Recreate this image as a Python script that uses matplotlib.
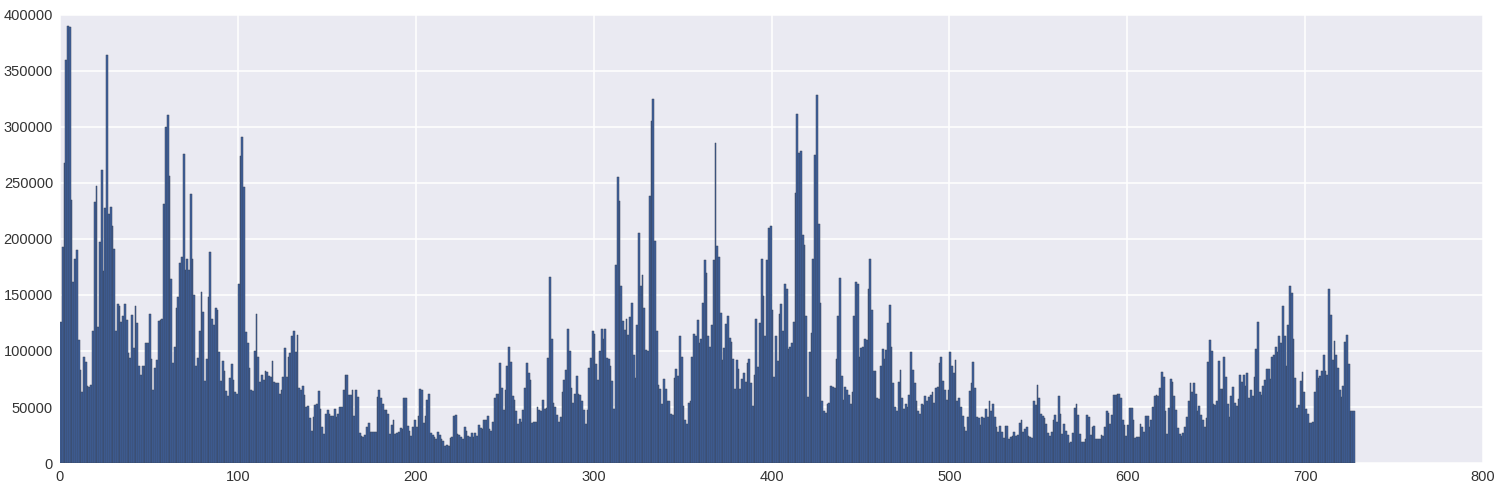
import numpy as np
import matplotlib
matplotlib.use("Agg")
import matplotlib.pyplot as plt

# values in thousands, per day index
seg_000_060 = [126,193,268,360,390,389,235,162,182,190,
               110,83,63,95,90,69,68,70,118,233,
               247,121,197,262,171,228,364,222,229,212,
               191,118,142,140,126,131,142,128,98,94,
               132,103,140,125,87,79,87,87,107,107,
               133,93,65,85,92,127,128,129,231,300,
               311]
seg_061_121 = [256,164,89,104,138,148,179,184,276,
               172,182,172,240,182,150,87,94,118,153,
               135,73,93,148,188,129,123,138,137,99,
               73,91,82,64,60,76,88,74,63,62,
               160,274,291,246,117,107,85,65,64,100,
               133,95,72,79,74,82,81,78,77,91,
               72,71]
seg_122_183 = [71,62,65,77,103,77,95,98,
               113,118,99,114,67,65,69,61,50,51,
               40,29,41,52,53,64,48,32,26,44,
               47,44,42,42,48,41,44,50,50,65,
               79,79,61,61,65,42,65,59,27,24,
               23,25,32,36,28,28,28,28,59,65,
               58,53,47,47]
seg_184_245 = [44,26,34,38,26,27,
               28,31,30,58,58,33,29,24,32,38,
               32,42,66,65,36,42,56,62,27,25,
               23,21,28,25,21,20,15,16,15,22,
               23,42,43,26,25,23,21,32,29,24,
               23,27,23,27,24,34,31,30,38,38,
               42,30,29,37,58,62]
seg_246_307 = [62,89,67,47,
               65,87,104,90,60,56,46,35,39,37,
               47,67,89,80,74,36,37,37,50,47,
               46,56,48,49,94,166,111,54,50,43,
               37,41,63,74,83,120,100,67,54,62,
               78,62,61,55,47,35,47,85,94,118,
               115,88,74,100,120,111,120,94]
seg_308_369 = [93,87,
               73,48,177,255,234,158,127,119,129,114,
               130,143,96,76,123,205,158,168,138,101,
               100,238,305,325,198,118,70,66,53,75,
               66,55,55,44,43,76,84,78,113,95,
               51,38,35,54,55,95,115,113,128,107,
               111,143,181,170,113,104,123,181,286,194]
seg_370_430 = [184,134,92,103,124,131,112,108,93,66,
               92,84,66,75,80,72,89,93,71,51,
               79,129,86,125,182,149,113,181,210,212,
               137,77,113,91,133,142,118,160,155,102,
               104,107,126,241,312,277,279,204,195,131,
               59,99,116,182,275,329,213,143,55,46,
               45]
seg_431_492 = [53,54,69,68,67,93,131,165,78,
               56,68,65,61,53,63,131,162,160,95,
               103,104,111,110,155,182,137,82,82,58,
               57,87,102,93,101,125,141,104,71,50,
               46,72,83,58,48,53,50,61,99,83,
               71,55,46,44,53,52,60,55,59,61,
               63,54,67]
seg_493_554 = [68,89,95,73,65,56,65,
               99,87,80,92,55,58,50,42,32,29,
               41,64,71,90,67,41,40,34,41,40,
               48,41,55,46,53,41,32,28,33,28,
               22,33,33,21,23,24,28,24,25,36,
               38,28,30,32,24,23,22,55,52,70,
               58,44,42,40,35]
seg_555_616 = [27,24,28,38,43,37,60,44,26,35,
               29,25,18,19,27,49,53,43,26,19,
               19,21,43,41,25,32,33,21,21,21,
               25,24,32,46,45,35,43,61,61,62,
               62,58,38,34,24,34,49,49,38,22,
               23,23,35,32,28,42,42,32,38,50,
               60,61]
seg_617_678 = [60,67,81,77,46,26,49,75,72,60,
               47,31,26,24,27,32,41,55,71,63,
               71,62,46,51,43,38,32,40,90,110,
               100,53,52,55,91,66,66,95,77,53,
               41,60,68,54,51,57,79,72,79,69,
               80,58,65,60,77,102,126,63,61,69,
               74,84]
seg_679_727 = [84,75,95,96,104,99,113,107,140,113,
               87,123,158,152,111,76,49,52,73,81,
               63,48,44,36,36,37,63,83,76,78,
               82,96,82,79,155,132,92,109,96,85,
               65,59,69,108,114,88,46,46,46]

segments = [seg_000_060, seg_061_121, seg_122_183, seg_184_245, seg_246_307,
            seg_308_369, seg_370_430, seg_431_492, seg_493_554, seg_555_616,
            seg_617_678, seg_679_727]
values = [v * 1000 for seg in segments for v in seg]
days = np.arange(len(values))

x_ticks = [0, 100, 200, 300, 400, 500, 600, 700, 800]
y_ticks = [0, 50000, 100000, 150000, 200000, 250000, 300000, 350000, 400000]

plt.rcParams['font.family'] = ['Liberation Sans', 'DejaVu Sans']
fig = plt.figure(figsize=(15.03, 4.94), dpi=100)
ax = fig.add_axes([60/1503, 1 - 463/494, (1483-60)/1503, (463-15)/494])
ax.set_facecolor('#EAEAF2')
fig.patch.set_facecolor('white')

ax.bar(days, values, width=1.0, align='edge', color='#3F62A0',
       edgecolor='#3a4558', linewidth=0.35, zorder=2)

ax.set_xlim(0, 800)
ax.set_ylim(0, 400000)
ax.set_xticks(x_ticks)
ax.set_yticks(y_ticks)
ax.set_xticklabels([str(t) for t in x_ticks])
ax.set_yticklabels([str(t) for t in y_ticks])
ax.grid(True, color='white', linewidth=1.1, zorder=0)
ax.set_axisbelow(True)
for s in ax.spines.values():
    s.set_visible(False)
ax.tick_params(axis='both', length=0, labelsize=10.5, colors='#333333', pad=5)

fig.savefig('out.png', dpi=100)
